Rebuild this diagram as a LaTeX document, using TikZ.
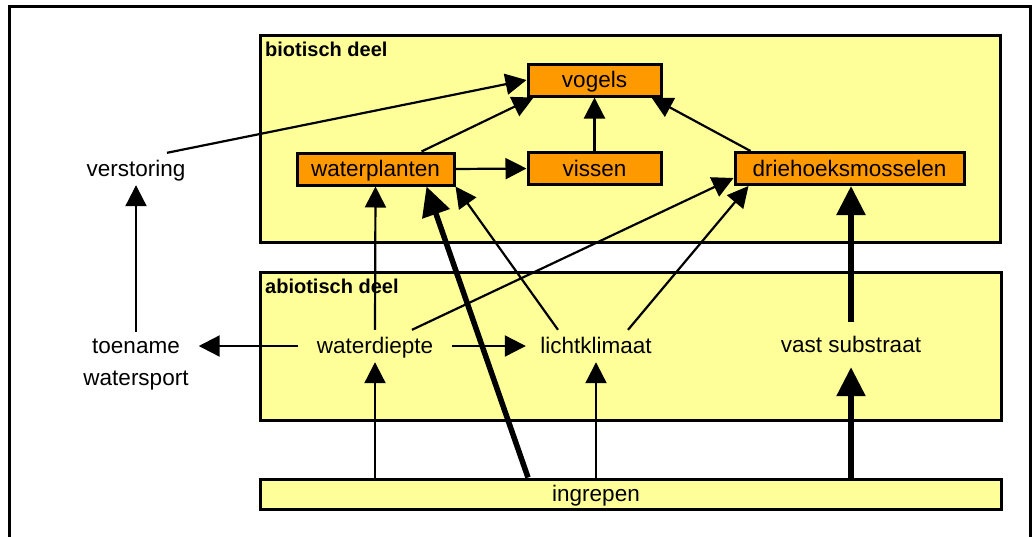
\documentclass[tikz,border=0pt]{standalone}
\usepackage{fontspec}
\setmainfont{Liberation Sans}
\usetikzlibrary{arrows.meta}
\definecolor{zone}{HTML}{FFFF99}
\definecolor{organism}{HTML}{FF9900}
\tikzset{
  zonebox/.style={draw=black, line width=3pt, fill=zone},
  zonetitle/.style={anchor=base west, inner sep=0pt, font=\fontsize{20}{24}\selectfont\bfseries},
  orgbox/.style={draw=black, line width=3pt, fill=organism, inner sep=0pt,
    minimum height=32pt, text height=19pt, text depth=4pt, font=\fontsize{22.5}{30}\selectfont},
  factor/.style={inner sep=0pt, minimum height=32pt, text height=19pt, text depth=4pt,
    font=\fontsize{22.5}{32}\selectfont},
  link/.style={line width=2.2pt, -{Triangle[length=21pt,width=21pt]}},
  strong/.style={line width=5.5pt, -{Triangle[length=29pt,width=28pt]}}
}
\begin{document}
\begin{tikzpicture}[x=1pt, y=-1pt]
\useasboundingbox (0,0) rectangle (1032,536);
\clip (0,0) rectangle (1032,536);

% frame open at the bottom
\draw[line width=3pt] (9.5,560) -- (9.5,6.5) -- (1030.5,6.5) -- (1030.5,560);

% zones
\draw[zonebox] (260,35) rectangle (1000,242);
\node[zonetitle] (biotitle) at (265,56) {biotisch deel};
\draw[zonebox] (260,272) rectangle (1001,420);
\node[zonetitle] (abiotitle) at (265,293) {abiotisch deel};
\node[zonebox, minimum width=741pt, minimum height=30pt, inner sep=0pt] (ing) at (630.5,494) {};
\node[anchor=base, inner sep=0pt, font=\fontsize{22.5}{30}\selectfont] (ingtext) at (596,501) {ingrepen};

% organisms
\node[orgbox, minimum width=133pt] (vog) at (594.5,80) {vogels};
\node[orgbox, minimum width=133pt] (vis) at (594.5,168.5) {vissen};
\node[orgbox, minimum width=229pt] (dm) at (849.5,168.5) {driehoeksmosselen};
\node[orgbox, minimum width=157pt] (wp) at (375.5,169) {waterplanten};

% abiotic factors and human use
\node[factor, minimum width=154pt] (wd) at (375,346) {waterdiepte};
\node[factor, minimum width=140pt] (lk) at (596,346) {lichtklimaat};
\node[factor, minimum width=150pt, minimum height=45pt] (vs) at (851,344.5) {vast substraat};
\node[factor, minimum width=110pt] (ver) at (136,169) {verstoring};
\node[inner ysep=4pt, inner xsep=10pt, align=center, font=\fontsize{22.5}{32}\selectfont] (tw) at (136,365) {toename\\watersport};

% links inside the biotic part
\draw[link] ([xshift=31pt]ver.north) -- (vog.west);
\draw[link] ([xshift=46pt]wp.north) -- ([xshift=7pt]vog.south west);
\draw[link] (wp.east) -- (vis.west);
\draw[link] (vis.north) -- (vog.south);
\draw[link] ([xshift=17pt]dm.north west) -- ([xshift=-11pt]vog.south east);

% abiotic factors acting on organisms
\draw[link] (wd.north) -- (wp.south);
\draw[link] ([xshift=37pt]wd.north) -- ([yshift=8pt]dm.south west);
\draw[link] ([xshift=-38pt]lk.north) -- (wp.south east);
\draw[link] ([xshift=32pt]lk.north) -- ([xshift=15pt]dm.south west);
\draw[strong] (vs.north) -- (vs.north |- dm.south);

% between abiotic factors and recreation
\draw[link] (wd.east) -- (lk.west);
\draw[link] (wd.west) -- (wd.west -| tw.east);
\draw[link] ([yshift=3pt]tw.north) -- (ver.south);

% interventions
\draw[link] (ing.north -| wd.south) -- (wd.south);
\draw[link] (ing.north -| lk.south) -- (lk.south);
\draw[strong] (ing.north -| vs.south) -- (vs.south);
\draw[strong] ([xshift=-102.5pt]ing.north) -- ([xshift=51pt]wp.south);
\end{tikzpicture}
\end{document}
